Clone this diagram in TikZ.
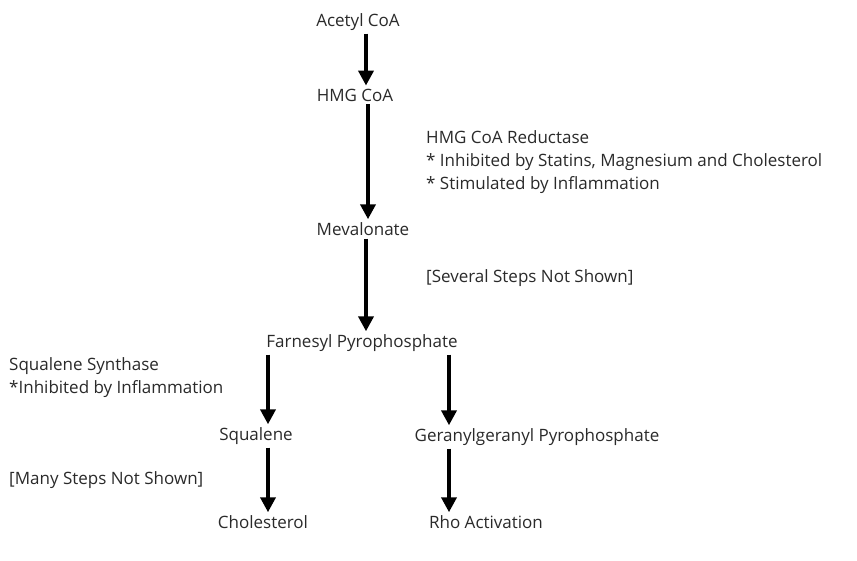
\documentclass[tikz,border=0pt]{standalone}
\usepackage{fontspec}
\setmainfont{Open Sans}
\usetikzlibrary{arrows.meta}
\definecolor{txt}{HTML}{2A2A2A}
\begin{document}
\begin{tikzpicture}[x=1pt,y=-1pt,
  lbl/.style={font=\fontsize{17}{23}\selectfont, text=txt, inner sep=1pt},
  note/.style={lbl, anchor=west, align=left},
  arr/.style={line width=4.5pt, draw=black, -{Triangle[width=15pt,length=15pt]}, shorten <=2pt, shorten >=2pt}]
\useasboundingbox[fill=white] (0,0) rectangle (857,560);
\node[lbl] (acetyl) at (358,22) {Acetyl CoA};
\node[lbl] (hmg) at (355,95) {HMG CoA};
\node[lbl] (meva) at (363,229) {Mevalonate};
\node[lbl] (farn) at (362,343) {Farnesyl Pyrophosphate};
\node[lbl] (squa) at (256,436) {Squalene};
\node[lbl] (gera) at (537,437) {Geranylgeranyl Pyrophosphate};
\node[lbl] (chol) at (263,522) {Cholesterol};
\node[lbl] (rho) at (486,522) {Rho Activation};
\node[note] (red) at (425,162) {HMG CoA Reductase\\* Inhibited by Statins, Magnesium and Cholesterol\\* Stimulated by Inflammation};
\node[note] (sev) at (425,278) {[Several Steps Not Shown]};
\node[note] (syn) at (8,378) {Squalene Synthase\\*Inhibited by Inflammation};
\node[note] (many) at (8,480) {[Many Steps Not Shown]};
\coordinate (c1) at (366,0);
\coordinate (c2) at (368,0);
\coordinate (c3) at (366,0);
\coordinate (c4) at (268,0);
\coordinate (c5) at (449,0);
\draw[arr] (acetyl.south -| c1) -- (hmg.north -| c1);
\draw[arr] (hmg.south -| c2) -- (meva.north -| c2);
\draw[arr] (meva.south -| c3) -- (farn.north -| c3);
\draw[arr] (farn.south -| c4) -- (squa.north -| c4);
\draw[arr] (farn.south -| c5) -- (gera.north -| c5);
\draw[arr] (squa.south -| c4) -- (chol.north -| c4);
\draw[arr] (gera.south -| c5) -- (rho.north -| c5);
\end{tikzpicture}
\end{document}
